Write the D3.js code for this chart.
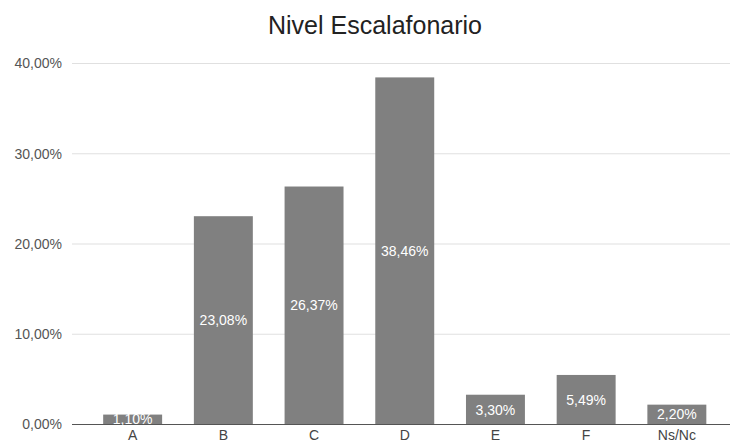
<!DOCTYPE html>
<html>
<head>
<meta charset="utf-8">
<script src="https://cdn.jsdelivr.net/npm/d3@7"></script>
<style>
  html, body { margin: 0; padding: 0; background: #fff; }
  svg { display: block; font-family: "Liberation Sans", Arial, sans-serif; }
</style>
</head>
<body>
<svg id="chart" width="730" height="444"></svg>
<script>
// Distribution by "Nivel Escalafonario" (percent of respondents)
const categories = ["A", "B", "C", "D", "E", "F", "Ns/Nc"];
const values = [1.10, 23.08, 26.37, 38.46, 3.30, 5.49, 2.20];
const yTicks = [0, 10, 20, 30, 40];
const title = "Nivel Escalafonario";

const fmt = v => v.toFixed(2).replace(".", ",") + "%";

const svg = d3.select("#chart");
const W = 730;

const y = d3.scaleLinear().domain([0, 40]).range([424.5, 63.5]);
const x = d3.scaleBand()
  .domain(categories)
  .range([87.3, 722.2])
  .paddingInner(0.35)
  .paddingOuter(0.175);

// Title
svg.append("text")
  .attr("x", 375).attr("y", 34)
  .attr("text-anchor", "middle")
  .attr("font-size", 25)
  .attr("fill", "#222")
  .text(title);

// Y labels
const yAxis = d3.axisLeft(y)
  .tickValues(yTicks)
  .tickSize(0)
  .tickPadding(0)
  .tickFormat(fmt);

const gy = svg.append("g").attr("transform", "translate(62,0)").call(yAxis);
gy.select(".domain").remove();
gy.selectAll("text").attr("font-size", 14).attr("fill", "#555").attr("font-family", null);

// Horizontal gridlines
svg.append("g").selectAll("line")
  .data(yTicks.filter(t => t > 0))
  .join("line")
  .attr("x1", 72).attr("x2", W)
  .attr("y1", d => y(d)).attr("y2", d => y(d))
  .attr("stroke", "#e0e0e0")
  .attr("stroke-width", 1.2);

// Bars
svg.append("g").selectAll("rect")
  .data(values)
  .join("rect")
  .attr("x", (d, i) => x(categories[i]))
  .attr("width", x.bandwidth())
  .attr("y", d => y(d))
  .attr("height", d => y(0) - y(d))
  .attr("fill", "#808080");

// Baseline
svg.append("line")
  .attr("x1", 72).attr("x2", W)
  .attr("y1", y(0)).attr("y2", y(0))
  .attr("stroke", "#555")
  .attr("stroke-width", 1.2);

// Value labels centred in each bar
svg.append("g").selectAll("text")
  .data(values)
  .join("text")
  .attr("x", (d, i) => x(categories[i]) + x.bandwidth() / 2)
  .attr("y", d => (y(d) + y(0)) / 2)
  .attr("dy", "0.35em")
  .attr("text-anchor", "middle")
  .attr("font-size", 14)
  .attr("fill", "#fff")
  .text(fmt);

// Category labels
const xAxis = d3.axisBottom(x).tickSize(0).tickPadding(0);
const gx = svg.append("g").attr("transform", `translate(0,${y(0) + 6})`).call(xAxis);
gx.select(".domain").remove();
gx.selectAll("text").attr("font-size", 14).attr("fill", "#444").attr("font-family", null)
  .attr("dy", "0.71em");
</script>
</body>
</html>
